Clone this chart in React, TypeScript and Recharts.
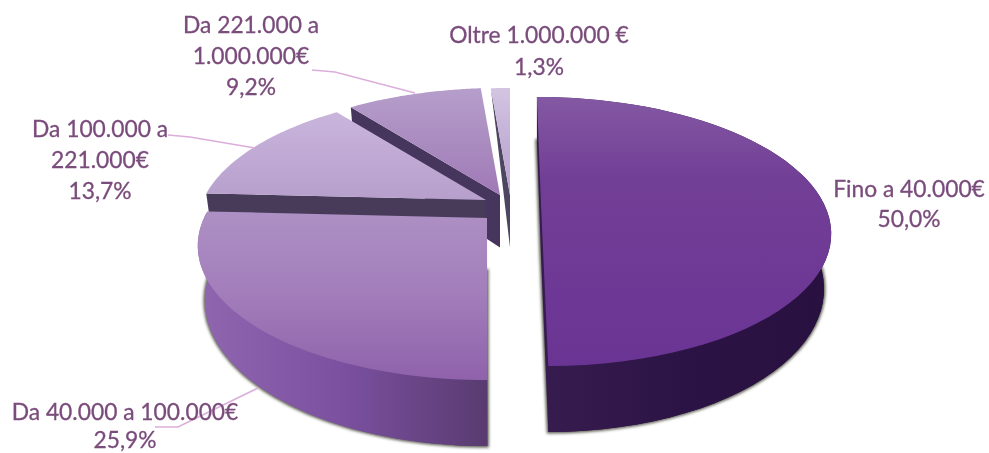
import React from 'react';
import { PieChart, Pie } from 'recharts';

// Drawn back to front, so the data runs counter-clockwise from 12 o'clock.
const categories = ['Oltre 1.000.000 €', 'Da 221.000 a 1.000.000€', 'Da 100.000 a 221.000€', 'Da 40.000 a 100.000€', 'Fino a 40.000€'];
const values = [1.3, 9.2, 13.7, 25.9, 50.0];
const labelLines = [
  ['Oltre 1.000.000 €', '1,3%'],
  ['Da 221.000 a', '1.000.000€', '9,2%'],
  ['Da 100.000 a', '221.000€', '13,7%'],
  ['Da 40.000 a 100.000€', '25,9%'],
  ['Fino a 40.000€', '50,0%'],
];
const tableData = categories.map((name, i) => ({ name, value: values[i] }));

// Layout and styling
const W = 989, H = 453, CX = 496, CY = 226, RX = 283;
const TILT = 0.4555, PERSP = 0.2045, DEPTH = 52.5, BOTTOM_SCALE = 0.975;
const explode = [
  { dx: 14, dy: -31, skew: 0 },
  { dx: 4, dy: -31, skew: 0 },
  { dx: -10, dy: -26, skew: 0 },
  { dx: -9, dy: -8, skew: -3 },
  { dx: 45, dy: -22, skew: 24 },
];
const topFill = [
  ['#d3c5e2', '#c3b0d6', '#b9a3cf'],
  ['#b69ecb', '#aa8cc0', '#a079b6'],
  ['#c9b5dc', '#c0aad5', '#b79fcc'],
  ['#ad90c4', '#a27dba', '#8f62ab'],
  ['#8458a3', '#723f96', '#6a3494'],
];
const topMid = [0.5, 0.5, 0.5, 0.5, 0.3];
const rimFill = [
  ['#4a3a60', '#4a3a60', '#4a3a60'],
  ['#4a3a60', '#4a3a60', '#4a3a60'],
  ['#4a3a60', '#4a3a60', '#4a3a60'],
  ['#9066b0', '#7b50a0', '#593b70'],
  ['#371c50', '#2c1345', '#281040'],
];
const faceFill = ['#4e4660', '#46355c', '#483b5a', '#483b5a', '#483b5a'];
const taper = [5, 0, 0, 0, 0];
const labelPos = [
  { x: 539, y: 43 },
  { x: 251, y: 33 },
  { x: 100, y: 137 },
  { x: 125, y: 420 },
  { x: 909, y: 197 },
];
const labelGap = [32, 31, 31, 28, 30];
const leaders = [
  null,
  [[415, 93], [335, 72], [312, 70]],
  [[255, 148], [190, 137], [168, 135]],
  [[258, 388], [178, 427], [155, 427]],
  null,
];

const project = (i: number, deg: number, r: number, depth: number, cx: number, cy: number, rx: number) => {
  const t = (deg * Math.PI) / 180;
  const u = r * Math.sin(t);
  const v = -r * Math.cos(t);
  const s = 1 / (1 - PERSP * v);
  const { dx, dy, skew } = explode[i];
  const xr = depth > 0 ? rx * BOTTOM_SCALE : rx;
  return [cx + dx + (xr * u + skew) * s - skew, cy + dy + rx * TILT * v * s + depth * s];
};

const toPath = (pts: number[][]) =>
  pts.map((p, k) => `${k ? 'L' : 'M'}${p[0].toFixed(1)} ${p[1].toFixed(1)}`).join(' ') + ' Z';

const Slice3D = (props: any) => {
  const { cx, cy, outerRadius, startAngle, endAngle, index } = props;
  const a0 = 90 - Math.max(startAngle, endAngle);
  const a1 = 90 - Math.min(startAngle, endAngle);
  const from = ((a0 % 360) + 360) % 360;
  const to = from + (a1 - a0);
  const P = (deg: number, r: number, d: number) => project(index, deg, r, d, cx, cy, outerRadius);
  const arc = (d: number) => {
    const pts: number[][] = [];
    for (let k = 0; k <= 60; k++) pts.push(P(from + ((to - from) * k) / 60, 1, d));
    return pts;
  };
  const top = [P(0, 0, 0), ...arc(0)];
  const bottom = [P(0, 0, DEPTH), ...arc(DEPTH)];
  const rim = [...arc(0), ...arc(DEPTH).reverse()];
  const near = from < 270 && to > 90;
  const rimBottom = P(from, 1, DEPTH);
  const face = [
    P(from, 1, 0),
    P(0, 0, 0),
    P(0, 0, DEPTH),
    [rimBottom[0] + taper[index], rimBottom[1]],
  ];
  return (
    <g>
      <defs>
        <linearGradient id={`top${index}`} x1="0" y1="0" x2="0" y2="1">
          <stop offset="0" stopColor={topFill[index][0]} />
          <stop offset={topMid[index]} stopColor={topFill[index][1]} />
          <stop offset="1" stopColor={topFill[index][2]} />
        </linearGradient>
        <linearGradient id={`rim${index}`} x1="0" y1="0" x2="1" y2="0">
          <stop offset="0" stopColor={rimFill[index][0]} />
          <stop offset="0.5" stopColor={rimFill[index][1]} />
          <stop offset="1" stopColor={rimFill[index][2]} />
        </linearGradient>
        <filter id={`soft${index}`} x="-10%" y="-10%" width="120%" height="120%">
          <feGaussianBlur stdDeviation="1.6" />
        </filter>
      </defs>
      {near && (
        <path d={toPath(bottom)} fill="#5a5a50" stroke="#5a5a50" strokeWidth={3} filter={`url(#soft${index})`} />
      )}
      {near && <path d={toPath(bottom)} fill={`url(#rim${index})`} />}
      {near && <path d={toPath(rim)} fill={`url(#rim${index})`} />}
      {from >= 270 && <path d={toPath(face)} fill={faceFill[index]} />}
      <path d={toPath(top)} fill={`url(#top${index})`} />
    </g>
  );
};

const SliceLabel = (props: any) => {
  const { index } = props;
  const pos = labelPos[index];
  const leader = leaders[index];
  return (
    <g>
      {leader && (
        <polyline
          points={leader.map((p) => p.join(',')).join(' ')}
          fill="none"
          stroke="#dcaedb"
          strokeWidth={1.6}
        />
      )}
      {labelLines[index].map((line, k) => (
        <text
          key={k}
          x={pos.x}
          y={pos.y + k * labelGap[index]}
          textAnchor="middle"
          fontFamily="Lato"
          fontSize={22.8}
          fill="#7a4c7c"
          stroke="#7a4c7c"
          strokeWidth={0.3}
        >
          {line}
        </text>
      ))}
    </g>
  );
};

export default function App() {
  return (
    <div style={{ position: 'absolute', left: 0, top: 0, width: W, height: H, background: '#fff', filter: 'blur(0.5px)' }}>
      <PieChart width={W} height={H} margin={{ top: 0, right: 0, bottom: 0, left: 0 }}>
        <Pie
          data={tableData}
          dataKey="value"
          nameKey="name"
          cx={CX}
          cy={CY}
          innerRadius={0}
          outerRadius={RX}
          startAngle={90}
          endAngle={450}
          stroke="none"
          isAnimationActive={false}
          shape={Slice3D}
          label={SliceLabel}
          labelLine={false}
        />
      </PieChart>
    </div>
  );
}
